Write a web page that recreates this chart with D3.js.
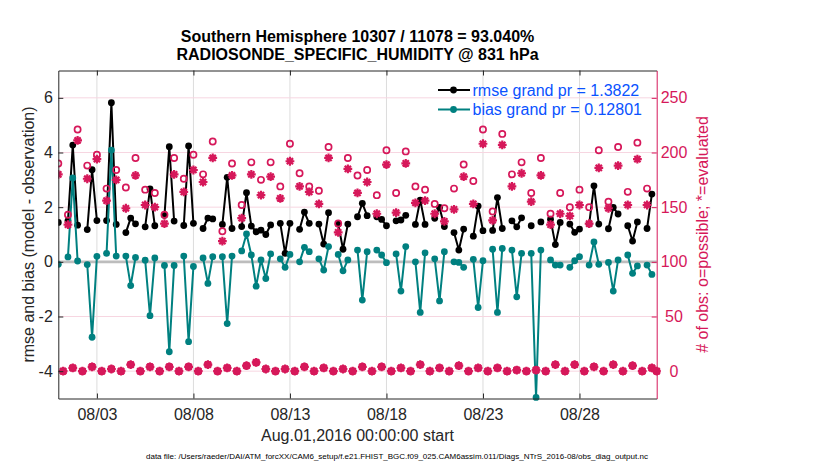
<!DOCTYPE html>
<html>
<head>
<meta charset="utf-8">
<script src="https://cdn.jsdelivr.net/npm/d3@7"></script>
<style>
  body { margin: 0; background: #fff; }
  svg text { font-family: "Liberation Sans", Arial, Helvetica, sans-serif; }
</style>
</head>
<body>
<div id="chart"></div>
<script>
// 6-hourly bins starting Aug 1 2016 00Z; four per day: 00Z, 06Z, 12Z, 18Z
const startTime = Date.UTC(2016, 7, 1);
const endTime = Date.UTC(2016, 8, 1);

const rmse = [
  1.44, null, 1.50, 4.27,   1.34, null, 1.18, 3.37,   1.51, null, 1.51, 5.82,
  1.37, null, 1.07, 1.60,   1.39, null, 1.28, 2.67,   1.32, null, 1.70, 4.21,
  1.49, null, 1.33, 4.24,   1.41, null, 1.22, 1.60,   1.57, null, 1.37, 3.09,
  1.22, null, 1.29, 2.53,   1.31, 1.10, 1.16, 1.00,   1.35, null, 1.41, 0.31,
  1.41, null, 1.19, 1.82,   1.41, null, 1.38, 0.65,   1.80, null, 1.38, 0.46,
  1.38, null, 1.65, 2.14,   1.69, null, 1.65, 1.55,   1.32, null, 1.50, 1.53,
  1.70, null, 1.37, 2.26,   1.37, null, 1.59, 1.99,   1.29, null, 1.07, 0.43,
  1.20, null, 0.94, 2.04,   1.14, null, 1.15, 2.35,   1.22, null, 1.50, 1.28,
  1.61, null, 1.32, null,   1.46, null, 1.56, 0.63,   1.44, null, 1.38, 1.08,
  1.20, null, 1.38, 2.78,   1.38, null, 1.21, 1.99,   1.75, null, 1.32, 0.76,
  1.46, null, 1.22, 2.48,   null
];

const bias = [
  -0.09, null, 0.18, 3.07,   0.03, null, -0.10, -2.76,  0.20, null, 0.31, 4.09,
  0.21, null, 0.21, -0.87,   0.16, null, 0.06, -1.97,   0.14, null, -0.13, -3.29,
  -0.13, null, 0.21, -2.92,  -0.17, null, 0.14, -0.79,  0.19, null, 0.19, -2.26,
  0.21, null, 0.40, 1.02,    0.25, -0.89, 0.07, -0.61,  0.29, null, 0.11, -0.20,
  0.27, null, 0.00, 0.53,    0.37, null, 0.11, -0.30,   0.56, null, 0.27, -0.33,
  0.07, null, 0.43, -1.40,   0.37, null, 0.43, 0.25,    -0.03, null, 0.29, -1.07,
  0.56, null, 0.00, -1.85,   0.33, null, 0.11, -1.43,   0.37, null, 0.00, -0.02,
  -0.20, null, 0.09, -1.67,  0.04, null, 0.46, -1.85,   0.49, null, 0.43, -1.28,
  0.31, null, 0.31, -4.96,   0.43, null, 0.07, -0.12,   -0.12, null, -0.20, 0.04,
  0.19, null, -0.12, 0.73,   -0.09, null, -0.02, -1.07, 0.07, null, 0.25, -0.42,
  -0.15, null, -0.12, -0.46, null
];

const nPossible = [
  190, 0, 143, 3,   221, 0, 188, 4,   198, 0, 167, 2,   184, 0, 168, 6,
  195, 0, 166, 4,   163, 0, 143, 4,   195, 0, 176, 4,   198, 0, 180, 6,
  210, 0, 128, 3,   190, 0, 152, 5,   191, 8, 175, 2,   191, 0, 169, 2,
  208, 0, 181, 4,   169, 0, 165, 3,   205, 0, 135, 2,   195, 0, 179, 4,
  184, 0, 161, 4,   202, 0, 163, 3,   201, 0, 169, 6,   166, 0, 153, 3,
  149, 0, 167, 5,   189, 0, 174, 3,   221, 0, 146, 3,   217, 0, 180, 1,
  191, 0, 163, 1,   195, 0, 144, 6,   163, 0, 150, 6,   166, 0, 150, 4,
  202, 0, 155, 6,   205, 0, 164, 5,   209, 0, 167, 3,   0
];

const nEvaluated = [
  180, 0, 134, 3,   211, 0, 176, 4,   194, 0, 156, 2,   175, 0, 149, 6,
  179, 0, 152, 4,   150, 0, 135, 4,   180, 0, 164, 4,   184, 0, 173, 6,
  195, 0, 119, 3,   179, 0, 140, 5,   180, 8, 161, 2,   178, 0, 158, 2,
  192, 0, 169, 4,   164, 0, 153, 3,   195, 0, 127, 2,   185, 0, 163, 4,
  173, 0, 144, 4,   189, 0, 145, 3,   190, 0, 154, 6,   156, 0, 144, 3,
  137, 0, 148, 5,   178, 0, 153, 3,   208, 0, 138, 3,   207, 0, 169, 1,
  181, 0, 155, 1,   179, 0, 134, 6,   144, 0, 142, 6,   152, 0, 135, 4,
  186, 0, 149, 6,   188, 0, 152, 5,   194, 0, 152, 3,   0
];

const xTickDates = ['2016-08-03', '2016-08-08', '2016-08-13', '2016-08-18', '2016-08-23', '2016-08-28'];
const leftTicks = [-4, -2, 0, 2, 4, 6];
const rightTicks = [0, 50, 100, 150, 200, 250];

const titleLines = ['Southern Hemisphere 10307 / 11078 = 93.040%', 'RADIOSONDE_SPECIFIC_HUMIDITY @ 831 hPa'];
const legendLabels = ['rmse grand pr = 1.3822', 'bias grand pr = 0.12801'];
const xAxisTitle = 'Aug.01,2016 00:00:00 start';
const yAxisTitle = 'rmse and bias (model - observation)';
const y2AxisTitle = '# of obs: o=possible; *=evaluated';
const footer = 'data file: /Users/raeder/DAI/ATM_forcXX/CAM6_setup/f.e21.FHIST_BGC.f09_025.CAM6assim.011/Diags_NTrS_2016-08/obs_diag_output.nc';

const cfg = {
  width: 830, height: 470,
  left: 58.3, right: 656.7, top: 70.5, bottom: 398.5,
  axisColor: '#262626',
  rmseColor: '#000000',
  biasColor: '#008080',
  countColor: '#d6185a',
  legendText: '#0a52ff'
};

const sixHours = 6 * 3600 * 1000;
const rows = rmse.map((r, i) => ({
  t: new Date(startTime + i * sixHours),
  rmse: r, bias: bias[i], poss: nPossible[i], used: nEvaluated[i]
}));

const svg = d3.select('#chart').append('svg')
  .attr('width', cfg.width).attr('height', cfg.height);

const x = d3.scaleUtc().domain([new Date(startTime), new Date(endTime)]).range([cfg.left, cfg.right]);
const yL = d3.scaleLinear().domain([-5, 7]).range([cfg.bottom, cfg.top]);
const yR = d3.scaleLinear().domain([-25, 275]).range([cfg.bottom, cfg.top]);
const tickDates = xTickDates.map(s => new Date(s + 'T00:00:00Z'));

// grid
const grid = svg.append('g');
grid.selectAll('line.vg').data(tickDates).enter().append('line')
  .attr('x1', d => x(d)).attr('x2', d => x(d))
  .attr('y1', cfg.top).attr('y2', cfg.bottom)
  .attr('stroke', '#dcdcdc').attr('stroke-width', 1);
grid.selectAll('line.hg').data(rightTicks).enter().append('line')
  .attr('x1', cfg.left).attr('x2', cfg.right)
  .attr('y1', d => yR(d)).attr('y2', d => yR(d))
  .attr('stroke', '#f7d6e1').attr('stroke-width', 1);

// zero line
svg.append('line')
  .attr('x1', cfg.left).attr('x2', cfg.right)
  .attr('y1', yL(0)).attr('y2', yL(0))
  .attr('stroke', '#bdbdbd').attr('stroke-width', 2.6);

svg.append('clipPath').attr('id', 'plotclip').append('rect')
  .attr('x', cfg.left).attr('y', cfg.top - 4)
  .attr('width', cfg.right - cfg.left + 4).attr('height', cfg.bottom - cfg.top + 8);

const plot = svg.append('g').attr('clip-path', 'url(#plotclip)');

function drawSeries(key, color) {
  const line = d3.line()
    .defined(d => d[key] != null)
    .x(d => x(d.t)).y(d => yL(d[key]));
  plot.append('path').datum(rows)
    .attr('d', line).attr('fill', 'none')
    .attr('stroke', color).attr('stroke-width', 2).attr('stroke-linejoin', 'round');
  plot.selectAll('circle.' + key).data(rows.filter(d => d[key] != null)).enter()
    .append('circle')
    .attr('cx', d => x(d.t)).attr('cy', d => yL(d[key]))
    .attr('r', 3.4).attr('fill', color);
}
drawSeries('rmse', cfg.rmseColor);
drawSeries('bias', cfg.biasColor);

// counts on right axis: o = possible, * = evaluated
plot.selectAll('circle.poss').data(rows).enter().append('circle')
  .attr('cx', d => x(d.t)).attr('cy', d => yR(d.poss))
  .attr('r', 3.1).attr('fill', 'none')
  .attr('stroke', cfg.countColor).attr('stroke-width', 1.7);

const star = 'M-4.4,0L4.4,0M0,-4.4L0,4.4M-3.1,-3.1L3.1,3.1M-3.1,3.1L3.1,-3.1';
plot.selectAll('path.used').data(rows).enter().append('path')
  .attr('transform', d => `translate(${x(d.t)},${yR(d.used)})`)
  .attr('d', star).attr('fill', 'none')
  .attr('stroke', cfg.countColor).attr('stroke-width', 2.2);

// axes
const fontSize = 16;
function styleAxis(g, color) {
  g.selectAll('path.domain').attr('stroke', color).attr('stroke-width', 1);
  g.selectAll('.tick line').attr('stroke', color).attr('stroke-width', 1);
  g.selectAll('.tick text').attr('fill', color)
    .style('font-size', fontSize + 'px')
    .style('font-family', '"Liberation Sans", Arial, Helvetica, sans-serif');
}

const xAxis = svg.append('g').attr('transform', `translate(0,${cfg.bottom})`)
  .call(d3.axisBottom(x).tickValues(tickDates).tickFormat(d3.utcFormat('%m/%d'))
    .tickSizeInner(-5).tickSizeOuter(0).tickPadding(10));
styleAxis(xAxis, cfg.axisColor);

const xTop = svg.append('g').attr('transform', `translate(0,${cfg.top})`)
  .call(d3.axisTop(x).tickValues(tickDates).tickFormat('')
    .tickSizeInner(-5).tickSizeOuter(0));
styleAxis(xTop, cfg.axisColor);

const yAxisL = svg.append('g').attr('transform', `translate(${cfg.left},0)`)
  .call(d3.axisLeft(yL).tickValues(leftTicks).tickFormat(d => d < 0 ? '-' + Math.abs(d) : d)
    .tickSizeInner(-5).tickSizeOuter(0).tickPadding(5.5));
styleAxis(yAxisL, cfg.axisColor);

const yAxisR = svg.append('g').attr('transform', `translate(${cfg.right},0)`)
  .call(d3.axisRight(yR).tickValues(rightTicks)
    .tickSizeInner(-5).tickSizeOuter(0).tickPadding(17.3));
styleAxis(yAxisR, cfg.countColor);
yAxisR.selectAll('.tick text').attr('text-anchor', 'middle');

// titles
svg.selectAll('text.title').data(titleLines).enter().append('text')
  .attr('x', (cfg.left + cfg.right) / 2).attr('y', (d, i) => 41.7 + i * 18.5)
  .attr('text-anchor', 'middle').attr('font-weight', 'bold')
  .style('font-size', '16px').attr('fill', '#000').text(d => d);

svg.append('text')
  .attr('x', (cfg.left + cfg.right) / 2).attr('y', 441)
  .attr('text-anchor', 'middle').style('font-size', '16px')
  .attr('fill', cfg.axisColor).text(xAxisTitle);

svg.append('text')
  .attr('transform', `translate(34,${(cfg.top + cfg.bottom) / 2}) rotate(-90)`)
  .attr('text-anchor', 'middle').style('font-size', '16px')
  .attr('fill', cfg.axisColor).text(yAxisTitle);

svg.append('text')
  .attr('transform', `translate(708,${(cfg.top + cfg.bottom) / 2}) rotate(-90)`)
  .attr('text-anchor', 'middle').style('font-size', '16px')
  .attr('fill', cfg.countColor).text(y2AxisTitle);

svg.append('text')
  .attr('x', 146).attr('y', 459)
  .style('font-size', '8px').attr('fill', '#000').text(footer);

// legend
const legend = svg.append('g');
const legendColors = [cfg.rmseColor, cfg.biasColor];
legendLabels.forEach((label, i) => {
  const ly = 90 + i * 19.5;
  legend.append('line').attr('x1', 438).attr('x2', 470).attr('y1', ly).attr('y2', ly)
    .attr('stroke', legendColors[i]).attr('stroke-width', 2);
  legend.append('circle').attr('cx', 453.5).attr('cy', ly).attr('r', 3.4).attr('fill', legendColors[i]);
  legend.append('text').attr('x', 472.5).attr('y', ly + 5.6)
    .style('font-size', '16px').attr('fill', cfg.legendText).text(label);
});
</script>
</body>
</html>
